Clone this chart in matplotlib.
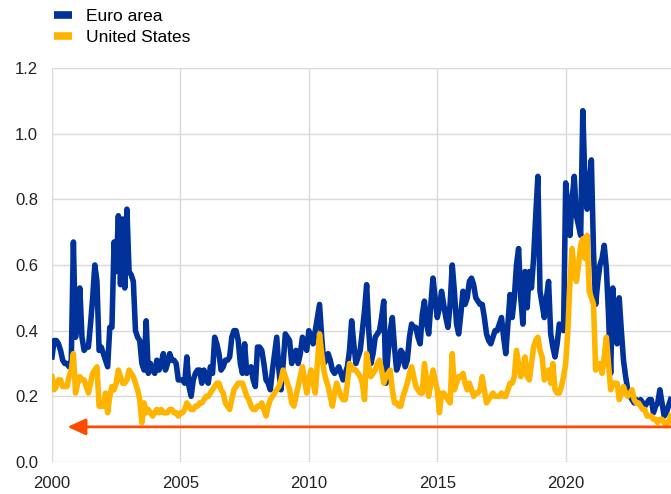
import numpy as np
import matplotlib.pyplot as plt
from matplotlib.lines import Line2D

# monthly values, Jan 2000 - Feb 2024
euro_area = [
    0.32, 0.37, 0.37, 0.36, 0.34, 0.31, 0.30, 0.30, 0.29, 0.31, 0.67, 0.38,  # 2000
    0.45, 0.53, 0.38, 0.34, 0.35, 0.35, 0.42, 0.50, 0.60, 0.55, 0.34, 0.35,  # 2001
    0.33, 0.31, 0.29, 0.41, 0.41, 0.67, 0.58, 0.75, 0.54, 0.74, 0.53, 0.77,  # 2002
    0.58, 0.57, 0.55, 0.40, 0.38, 0.37, 0.30, 0.28, 0.43, 0.27, 0.30, 0.28,  # 2003
    0.27, 0.31, 0.28, 0.30, 0.33, 0.28, 0.30, 0.33, 0.31, 0.31, 0.30, 0.25,  # 2004
    0.25, 0.25, 0.24, 0.32, 0.23, 0.20, 0.25, 0.27, 0.28, 0.28, 0.24, 0.28,  # 2005
    0.25, 0.24, 0.29, 0.27, 0.38, 0.36, 0.33, 0.28, 0.29, 0.31, 0.31, 0.32,  # 2006
    0.38, 0.40, 0.40, 0.37, 0.30, 0.27, 0.36, 0.27, 0.28, 0.29, 0.25, 0.23,  # 2007
    0.35, 0.35, 0.34, 0.30, 0.25, 0.24, 0.22, 0.28, 0.33, 0.38, 0.28, 0.22,  # 2008
    0.30, 0.39, 0.38, 0.37, 0.30, 0.32, 0.34, 0.30, 0.33, 0.38, 0.36, 0.34,  # 2009
    0.40, 0.38, 0.36, 0.40, 0.44, 0.48, 0.38, 0.30, 0.31, 0.33, 0.31, 0.28,  # 2010
    0.27, 0.28, 0.29, 0.27, 0.25, 0.27, 0.29, 0.34, 0.43, 0.36, 0.30, 0.32,  # 2011
    0.34, 0.40, 0.46, 0.54, 0.40, 0.30, 0.33, 0.38, 0.39, 0.40, 0.44, 0.49,  # 2012
    0.24, 0.33, 0.40, 0.44, 0.35, 0.28, 0.30, 0.34, 0.33, 0.29, 0.31, 0.38,  # 2013
    0.42, 0.41, 0.41, 0.38, 0.36, 0.45, 0.49, 0.42, 0.39, 0.48, 0.56, 0.50,  # 2014
    0.44, 0.47, 0.52, 0.48, 0.44, 0.41, 0.48, 0.60, 0.52, 0.42, 0.39, 0.45,  # 2015
    0.52, 0.48, 0.50, 0.55, 0.56, 0.54, 0.50, 0.49, 0.48, 0.48, 0.44, 0.39,  # 2016
    0.37, 0.36, 0.38, 0.40, 0.40, 0.42, 0.44, 0.38, 0.33, 0.42, 0.51, 0.44,  # 2017
    0.50, 0.60, 0.65, 0.50, 0.42, 0.58, 0.47, 0.58, 0.53, 0.62, 0.75, 0.87,  # 2018
    0.52, 0.48, 0.44, 0.50, 0.55, 0.39, 0.35, 0.32, 0.36, 0.42, 0.41, 0.40,  # 2019
    0.85, 0.78, 0.69, 0.80, 0.87, 0.75, 0.72, 0.69, 1.07, 0.85, 0.77, 0.85,  # 2020
    0.92, 0.64, 0.48, 0.55, 0.60, 0.62, 0.66, 0.59, 0.45, 0.27, 0.53, 0.42,  # 2021
    0.36, 0.50, 0.40, 0.31, 0.26, 0.22, 0.20, 0.19, 0.18, 0.19, 0.18, 0.19,  # 2022
    0.18, 0.17, 0.18, 0.19, 0.19, 0.15, 0.17, 0.18, 0.22, 0.18, 0.14, 0.15,  # 2023
    0.17, 0.19,                                                              # 2024
]

united_states = [
    0.26, 0.22, 0.23, 0.25, 0.25, 0.23, 0.23, 0.23, 0.26, 0.28, 0.33, 0.21,  # 2000
    0.24, 0.26, 0.25, 0.25, 0.23, 0.21, 0.24, 0.27, 0.28, 0.29, 0.17, 0.17,  # 2001
    0.17, 0.21, 0.15, 0.20, 0.23, 0.22, 0.24, 0.28, 0.26, 0.24, 0.24, 0.25,  # 2002
    0.28, 0.27, 0.26, 0.24, 0.22, 0.19, 0.12, 0.18, 0.15, 0.16, 0.15, 0.14,  # 2003
    0.15, 0.16, 0.15, 0.16, 0.15, 0.15, 0.15, 0.16, 0.16, 0.15, 0.15, 0.14,  # 2004
    0.15, 0.15, 0.16, 0.18, 0.17, 0.16, 0.16, 0.17, 0.17, 0.18, 0.18, 0.19,  # 2005
    0.20, 0.20, 0.21, 0.22, 0.23, 0.24, 0.24, 0.22, 0.21, 0.18, 0.17, 0.16,  # 2006
    0.19, 0.22, 0.23, 0.24, 0.24, 0.24, 0.22, 0.20, 0.19, 0.17, 0.16, 0.16,  # 2007
    0.17, 0.17, 0.18, 0.16, 0.14, 0.17, 0.19, 0.20, 0.21, 0.22, 0.23, 0.25,  # 2008
    0.28, 0.26, 0.24, 0.22, 0.18, 0.17, 0.20, 0.23, 0.26, 0.29, 0.25, 0.21,  # 2009
    0.25, 0.28, 0.24, 0.21, 0.30, 0.39, 0.33, 0.28, 0.25, 0.23, 0.20, 0.17,  # 2010
    0.21, 0.24, 0.22, 0.20, 0.19, 0.19, 0.24, 0.30, 0.29, 0.28, 0.28, 0.27,  # 2011
    0.26, 0.24, 0.19, 0.33, 0.29, 0.26, 0.27, 0.28, 0.30, 0.31, 0.28, 0.24,  # 2012
    0.26, 0.27, 0.28, 0.22, 0.18, 0.18, 0.17, 0.17, 0.20, 0.22, 0.24, 0.27,  # 2013
    0.29, 0.26, 0.23, 0.22, 0.21, 0.21, 0.30, 0.25, 0.20, 0.24, 0.28, 0.25,  # 2014
    0.22, 0.15, 0.21, 0.21, 0.20, 0.19, 0.18, 0.33, 0.22, 0.24, 0.26, 0.26,  # 2015
    0.27, 0.24, 0.22, 0.24, 0.22, 0.20, 0.21, 0.21, 0.22, 0.26, 0.22, 0.18,  # 2016
    0.19, 0.20, 0.21, 0.20, 0.20, 0.20, 0.21, 0.20, 0.20, 0.22, 0.24, 0.24,  # 2017
    0.26, 0.34, 0.30, 0.26, 0.28, 0.32, 0.26, 0.25, 0.30, 0.35, 0.37, 0.38,  # 2018
    0.34, 0.32, 0.25, 0.26, 0.28, 0.24, 0.30, 0.22, 0.21, 0.21, 0.23, 0.26,  # 2019
    0.30, 0.40, 0.55, 0.65, 0.58, 0.55, 0.60, 0.66, 0.68, 0.62, 0.69, 0.52,  # 2020
    0.50, 0.48, 0.28, 0.29, 0.30, 0.27, 0.32, 0.38, 0.30, 0.22, 0.24, 0.24,  # 2021
    0.24, 0.19, 0.21, 0.23, 0.21, 0.20, 0.21, 0.22, 0.19, 0.18, 0.18, 0.17,  # 2022
    0.16, 0.16, 0.14, 0.14, 0.14, 0.13, 0.13, 0.12, 0.13, 0.13, 0.12, 0.11,  # 2023
    0.12, 0.14,                                                              # 2024
]

arrow_level = 0.107
arrow_start = 2000.6
x_end = 2024.1
xticks = [2000, 2005, 2010, 2015, 2020]
yticks = [0.0, 0.2, 0.4, 0.6, 0.8, 1.0, 1.2]

blue = "#003299"
yellow = "#FFB400"
red = "#FF4B00"

plt.rcParams['font.family'] = ['Liberation Sans', 'DejaVu Sans']

dates = 2000 + np.arange(len(euro_area)) / 12

fig = plt.figure(figsize=(6.71, 4.94), dpi=100)
ax = fig.add_axes([52 / 671, 1 - 462 / 494, 1 - 52 / 671, (462 - 68) / 494])

ax.plot(dates, euro_area, color=blue, lw=4, solid_joinstyle='round', zorder=3)
ax.plot(dates, united_states, color=yellow, lw=4, solid_joinstyle='round', zorder=4)

ax.annotate("", xy=(arrow_start, arrow_level), xytext=(x_end, arrow_level),
            arrowprops=dict(arrowstyle="-|>,head_length=1.1,head_width=0.5",
                            color=red, lw=2, mutation_scale=10,
                            shrinkA=0, shrinkB=0),
            zorder=5)

ax.set_xlim(2000, x_end)
ax.set_ylim(0, 1.2)
ax.set_xticks(xticks)
ax.set_yticks(yticks)
ax.set_yticklabels([f"{v:.1f}" for v in yticks])
ax.grid(True, color="#d9d9d9", lw=1)
ax.set_axisbelow(True)
for s in ax.spines.values():
    s.set_visible(False)
ax.tick_params(length=0, labelsize=12, colors="#222222")
ax.tick_params(axis='y', pad=10)
ax.tick_params(axis='x', pad=10)

handles = [Line2D([], [], color=blue, lw=5.5, solid_capstyle='butt'),
           Line2D([], [], color=yellow, lw=5.5, solid_capstyle='butt')]
fig.legend(handles, ["Euro area", "United States"], loc="upper left",
           bbox_to_anchor=(45 / 671, 1.0), frameon=False, fontsize=12.5,
           handlelength=1.05, handletextpad=0.8, labelspacing=0.35,
           borderaxespad=0.1)

fig.savefig("out.png", dpi=100)
